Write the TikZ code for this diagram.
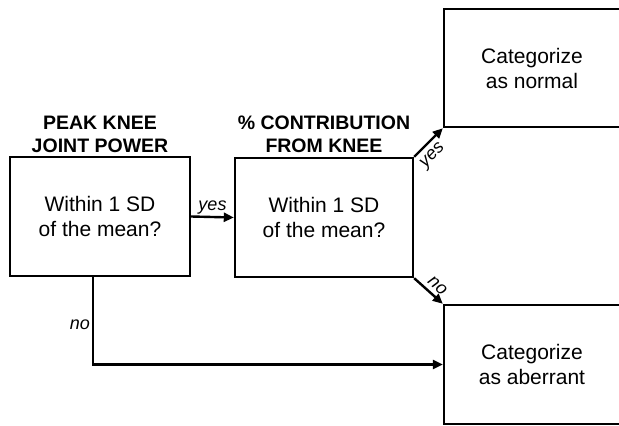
\documentclass[tikz,border=0pt]{standalone}
\usepackage{fontspec}
\setmainfont{Liberation Sans}
\usetikzlibrary{arrows.meta,positioning}
\begin{document}
\begin{tikzpicture}[x=1pt,y=-1pt,
  box/.style={draw,line width=2.4pt,align=center,font=\fontsize{21}{25}\selectfont,inner sep=0pt},
  ttl/.style={align=center,font=\fontsize{19.5}{23}\selectfont\bfseries},
  lbl/.style={font=\fontsize{18}{20}\selectfont\itshape,inner sep=2pt},
  arr/.style={line width=2.4pt,-{Triangle[length=10pt,width=9pt]}}]
\useasboundingbox (0,0) rectangle (619,426);
\node[box,minimum width=180pt,minimum height=119pt] (b1) at (100,216.5) {Within 1 SD\\of the mean?};
\node[box,minimum width=178pt,minimum height=119pt] (b2) at (324,217.5) {Within 1 SD\\of the mean?};
\node[box,minimum width=176pt,minimum height=118pt] (nm) at (532,68) {Categorize\\as normal};
\node[box,minimum width=176pt,minimum height=119pt] (ab) at (532,364.5) {Categorize\\as aberrant};
\node[ttl] (t1) at (100,134) {PEAK KNEE\\JOINT POWER};
\node[ttl] (t2) at (324,134) {\% CONTRIBUTION\\FROM KNEE};
\draw[arr] (b1.east) -- node[lbl,above] {yes} (b2.west);
\draw[arr] (b2.north east) -- node[lbl,rotate=45,anchor=north,inner sep=5pt,pos=0.34] {yes} (nm.south west);
\draw[arr] (b2.south east) -- node[lbl,rotate=-42,anchor=south,inner sep=4pt,pos=0.58] {no} (ab.north west);
\coordinate (c1) at ([xshift=-7pt]b1.south);
\draw[arr] (c1) |- node[lbl,left,pos=0.27] {no} (ab.west);
\end{tikzpicture}
\end{document}
